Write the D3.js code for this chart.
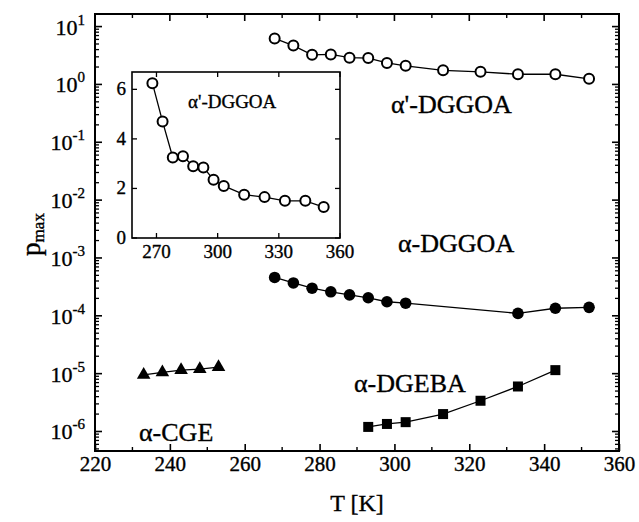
<!DOCTYPE html>
<html>
<head>
<meta charset="utf-8">
<script src="https://cdn.jsdelivr.net/npm/d3@7"></script>
<style>
  html, body { margin: 0; padding: 0; background: #fff; }
  svg text { font-family: "Liberation Serif", "Times New Roman", serif; fill: #000; stroke: #000; stroke-width: 0.35px; }
</style>
</head>
<body>
<svg id="chart" width="639" height="522"></svg>
<script>
// Temperatures (K) and p_max for each sample
const tAlphaPrimeDGGOA = [268, 273, 278, 283, 288, 293, 298, 303, 313, 323, 333, 343, 352];
const pAlphaPrimeDGGOA = [6.25, 4.7, 3.25, 3.3, 2.9, 2.85, 2.35, 2.1, 1.75, 1.65, 1.5, 1.5, 1.25];

const tAlphaDGGOA = [268, 273, 278, 283, 288, 293, 298, 303, 333, 343, 352];
const pAlphaDGGOA = [4.6e-4, 3.7e-4, 3.0e-4, 2.6e-4, 2.3e-4, 2.05e-4, 1.75e-4, 1.65e-4, 1.1e-4, 1.35e-4, 1.4e-4];

const tAlphaDGEBA = [293, 298, 303, 313, 323, 333, 343];
const pAlphaDGEBA = [1.2e-6, 1.35e-6, 1.45e-6, 2.0e-6, 3.4e-6, 6.0e-6, 1.15e-5];

const tAlphaCGE = [233, 238, 243, 248, 253];
const pAlphaCGE = [9.5e-6, 1.05e-5, 1.15e-5, 1.2e-5, 1.3e-5];

// Axis ticks
const xTicks = [220, 240, 260, 280, 300, 320, 340, 360];
const yExponents = [1, 0, -1, -2, -3, -4, -5, -6];
const insetXTicks = [270, 300, 330, 360];
const insetYTicks = [0, 2, 4, 6];

const svg = d3.select("#chart");

// Main panel
const M = { left: 95, right: 619, top: 14, bottom: 451 };
const x = d3.scaleLinear().domain([220, 360]).range([M.left, M.right]);
const y = d3.scaleLog().domain([4.6e-7, 16.5]).range([M.bottom, M.top]);

const g = svg.append("g");

// frame
g.append("rect")
  .attr("x", M.left).attr("y", M.top)
  .attr("width", M.right - M.left).attr("height", M.bottom - M.top)
  .attr("fill", "none").attr("stroke", "#000").attr("stroke-width", 2);

// x axis bottom + top ticks
const xAxis = d3.axisBottom(x).tickValues(xTicks).tickSize(7).tickSizeOuter(0).tickFormat(d3.format("d"));
const gx = g.append("g").attr("transform", `translate(0,${M.bottom})`).call(xAxis);
gx.select(".domain").remove();
gx.selectAll(".tick line").attr("stroke-width", 1.6).attr("transform", "translate(0,-7)");
gx.selectAll(".tick text").attr("font-size", 21).attr("dy", "0.6em").attr("y", 7)
  .attr("font-family", "Liberation Serif, serif").attr("fill", "#000");
// minor x ticks
const xMinor = d3.range(230, 360, 20);
g.selectAll(".xminor").data(xMinor).join("line")
  .attr("x1", d => x(d)).attr("x2", d => x(d))
  .attr("y1", M.bottom).attr("y2", M.bottom - 4)
  .attr("stroke", "#000").attr("stroke-width", 1.4);
g.selectAll(".xtop").data(xTicks).join("line")
  .attr("x1", d => x(d)).attr("x2", d => x(d))
  .attr("y1", M.top).attr("y2", M.top + 7)
  .attr("stroke", "#000").attr("stroke-width", 1.6);
g.selectAll(".xtopminor").data(xMinor).join("line")
  .attr("x1", d => x(d)).attr("x2", d => x(d))
  .attr("y1", M.top).attr("y2", M.top + 4)
  .attr("stroke", "#000").attr("stroke-width", 1.4);

// y axis ticks (log): majors and minors, both sides
const majors = yExponents.map(e => Math.pow(10, e));
const minors = [];
for (let e = -7; e <= 1; e++) for (let k = 2; k <= 9; k++) {
  const v = k * Math.pow(10, e);
  if (v >= y.domain()[0] && v <= y.domain()[1]) minors.push(v);
}
[M.left, M.right].forEach((xx, i) => {
  const dir = i === 0 ? 1 : -1;
  g.selectAll(null).data(majors).join("line")
    .attr("x1", xx).attr("x2", xx + dir * 7)
    .attr("y1", d => y(d)).attr("y2", d => y(d))
    .attr("stroke", "#000").attr("stroke-width", 1.6);
  g.selectAll(null).data(minors).join("line")
    .attr("x1", xx).attr("x2", xx + dir * 4)
    .attr("y1", d => y(d)).attr("y2", d => y(d))
    .attr("stroke", "#000").attr("stroke-width", 1.3);
});

// y tick labels 10^n
const yl = g.selectAll(".ylab").data(yExponents).join("text")
  .attr("x", M.left - 10).attr("y", d => y(Math.pow(10, d)) + 8)
  .attr("text-anchor", "end").attr("font-size", 22);
yl.append("tspan").text("10");
yl.append("tspan").attr("dy", -10).attr("font-size", 15).text(d => d);

// axis titles
g.append("text").attr("x", (M.left + M.right) / 2).attr("y", 511)
  .attr("text-anchor", "middle").attr("font-size", 24).text("T [K]");
const yt = g.append("text").attr("transform", `translate(40,${(M.top + M.bottom) / 2 + 2}) rotate(-90)`)
  .attr("text-anchor", "middle").attr("font-size", 27);
yt.append("tspan").text("p");
yt.append("tspan").attr("font-size", 17).attr("dy", 4).text("max");

// series
const line = d3.line().x(d => x(d[0])).y(d => y(d[1]));
const zip = (a, b) => a.map((v, i) => [v, b[i]]);

function drawLine(data) {
  g.append("path").datum(data).attr("d", line)
    .attr("fill", "none").attr("stroke", "#000").attr("stroke-width", 1.3);
}

const sPrime = zip(tAlphaPrimeDGGOA, pAlphaPrimeDGGOA);
drawLine(sPrime);
g.selectAll(".oc").data(sPrime).join("circle")
  .attr("cx", d => x(d[0])).attr("cy", d => y(d[1])).attr("r", 5)
  .attr("fill", "#fff").attr("stroke", "#000").attr("stroke-width", 2);

const sAlpha = zip(tAlphaDGGOA, pAlphaDGGOA);
drawLine(sAlpha);
g.selectAll(".fc").data(sAlpha).join("circle")
  .attr("cx", d => x(d[0])).attr("cy", d => y(d[1])).attr("r", 5.8)
  .attr("fill", "#000");

const sDGEBA = zip(tAlphaDGEBA, pAlphaDGEBA);
drawLine(sDGEBA);
g.selectAll(".sq").data(sDGEBA).join("rect")
  .attr("x", d => x(d[0]) - 5).attr("y", d => y(d[1]) - 5)
  .attr("width", 10).attr("height", 10).attr("fill", "#000");

const sCGE = zip(tAlphaCGE, pAlphaCGE);
drawLine(sCGE);
const tri = d3.symbol().type(d3.symbolTriangle).size(80);
g.selectAll(".tr").data(sCGE).join("path")
  .attr("transform", d => `translate(${x(d[0])},${y(d[1])})`)
  .attr("d", tri).attr("fill", "#000");

// series labels
g.append("text").attr("x", 391).attr("y", 113).attr("font-size", 26).text("α'-DGGOA");
g.append("text").attr("x", 398).attr("y", 252).attr("font-size", 26).text("α-DGGOA");
g.append("text").attr("x", 354).attr("y", 392).attr("font-size", 26).text("α-DGEBA");
g.append("text").attr("x", 139).attr("y", 441).attr("font-size", 26).text("α-CGE");

// Inset: α'-DGGOA on linear axes
const I = { left: 132, right: 340, top: 72, bottom: 238 };
const xi = d3.scaleLinear().domain([258, 360]).range([I.left, I.right]);
const yi = d3.scaleLinear().domain([0, 6.7]).range([I.bottom, I.top]);
const gi = svg.append("g");
gi.append("rect").attr("x", I.left).attr("y", I.top)
  .attr("width", I.right - I.left).attr("height", I.bottom - I.top)
  .attr("fill", "#fff").attr("stroke", "#000").attr("stroke-width", 1.6);

gi.selectAll(".ixt").data(insetXTicks).join("line")
  .attr("x1", d => xi(d)).attr("x2", d => xi(d))
  .attr("y1", I.bottom).attr("y2", I.bottom - 5)
  .attr("stroke", "#000").attr("stroke-width", 1.3);
gi.selectAll(".ixtt").data(insetXTicks).join("line")
  .attr("x1", d => xi(d)).attr("x2", d => xi(d))
  .attr("y1", I.top).attr("y2", I.top + 5)
  .attr("stroke", "#000").attr("stroke-width", 1.3);
gi.selectAll(".ixl").data(insetXTicks).join("text")
  .attr("x", d => xi(d)).attr("y", I.bottom + 20)
  .attr("text-anchor", "middle").attr("font-size", 19).text(d => d);
gi.selectAll(".iyt").data(insetYTicks).join("line")
  .attr("x1", I.left).attr("x2", I.left + 5)
  .attr("y1", d => yi(d)).attr("y2", d => yi(d))
  .attr("stroke", "#000").attr("stroke-width", 1.3);
gi.selectAll(".iyt2").data(insetYTicks).join("line")
  .attr("x1", I.right).attr("x2", I.right - 5)
  .attr("y1", d => yi(d)).attr("y2", d => yi(d))
  .attr("stroke", "#000").attr("stroke-width", 1.3);
gi.selectAll(".iyl").data(insetYTicks).join("text")
  .attr("x", I.left - 6).attr("y", d => yi(d) + 6)
  .attr("text-anchor", "end").attr("font-size", 19).text(d => d);

const lineI = d3.line().x(d => xi(d[0])).y(d => yi(d[1]));
gi.append("path").datum(sPrime).attr("d", lineI)
  .attr("fill", "none").attr("stroke", "#000").attr("stroke-width", 1.3);
gi.selectAll(".ioc").data(sPrime).join("circle")
  .attr("cx", d => xi(d[0])).attr("cy", d => yi(d[1])).attr("r", 5)
  .attr("fill", "#fff").attr("stroke", "#000").attr("stroke-width", 2);
gi.append("text").attr("x", 188).attr("y", 108).attr("font-size", 19).text("α'-DGGOA");
</script>
</body>
</html>
